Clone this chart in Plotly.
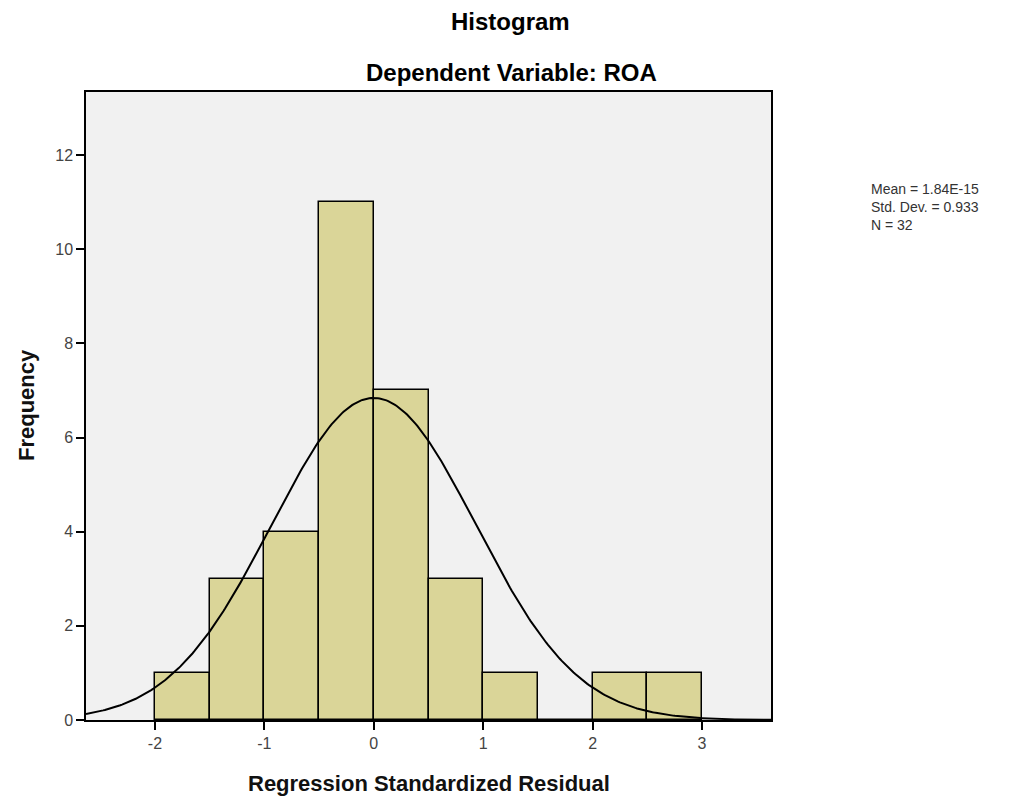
import numpy as np
import plotly.graph_objects as go

bin_edges_left = [-2.0, -1.5, -1.0, -0.5, 0.0, 0.5, 1.0, 1.5, 2.0, 2.5]
frequencies = [1, 3, 4, 11, 7, 3, 1, 0, 1, 1]
bin_width = 0.5
stat_mean = 1.84e-15
stat_sd = 0.933
stat_n = 32
x_ticks = [-2, -1, 0, 1, 2, 3]
x_tick_labels = ["-2", "-1", "0", "1", "2", "3"]
y_ticks = [0, 2, 4, 6, 8, 10, 12]
stats_lines = ["Mean = 1.84E-15", "Std. Dev. = 0.933", "N = 32"]

centers = [b + bin_width / 2 for b in bin_edges_left]

X_RANGE = [-2.63, 3.63]
Y_RANGE = [0, 13.34]

fig = go.Figure()
fig.add_trace(go.Bar(
    x=centers, y=frequencies, width=bin_width,
    marker=dict(color="rgb(218,213,152)", line=dict(color="black", width=1.5)),
    showlegend=False, hoverinfo="x+y",
))

# fitted normal curve from the displayed statistics
xc = np.linspace(X_RANGE[0], X_RANGE[1], 400)
yc = stat_n * bin_width / (stat_sd * np.sqrt(2 * np.pi)) * np.exp(-0.5 * ((xc - stat_mean) / stat_sd) ** 2)
fig.add_trace(go.Scatter(x=xc, y=yc, mode="lines", line=dict(color="black", width=2),
                         showlegend=False, hoverinfo="skip"))

# page offset of 8px (body margin)
OFF = 8
L, T = 86 - OFF, 92 - OFF
PW, PH = 771 - 86, 720 - 92
W, H = 1014, 798
R = W - L - PW
B = H - T - PH

def px(page_x):
    return (page_x - OFF - L) / PW
def py(page_y):
    return (H - B - (page_y - OFF)) / PH

font_family = "Liberation Sans, Arial, sans-serif"
annotations = [
    dict(text="<b>Histogram</b>", x=px(510), y=py(22), font=dict(size=24, color="black")),
    dict(text="<b>Dependent Variable: ROA</b>", x=px(512), y=py(72), font=dict(size=24, color="black")),
    dict(text="<b>Regression Standardized Residual</b>", x=px(429), y=py(783),
         font=dict(size=22, color="#111")),
    dict(text="<b>Frequency</b>", x=px(27), y=py(405), textangle=-90,
         font=dict(size=22, color="#111")),
    dict(text="<br>".join(stats_lines), x=px(869), y=py(207), xanchor="left", align="left",
         font=dict(size=14, color="#333")),
]
for a in annotations:
    a.setdefault("xref", "paper")
    a.setdefault("yref", "paper")
    a.setdefault("showarrow", False)
    a.setdefault("xanchor", "center")
    a.setdefault("yanchor", "middle")

fig.update_layout(
    width=W, height=H,
    margin=dict(l=L, r=R, t=T, b=B),
    paper_bgcolor="white", plot_bgcolor="rgb(241,241,241)",
    bargap=0,
    font=dict(family=font_family, color="#333", size=16),
    xaxis=dict(range=X_RANGE, tickvals=x_ticks, ticktext=x_tick_labels, ticks="outside", ticklen=8,
               tickcolor="black", tickwidth=1.5, showgrid=False, zeroline=False,
               showline=True, linecolor="black", linewidth=1.5, mirror=True,
               tickfont=dict(size=16, color="#444")),
    yaxis=dict(range=Y_RANGE, tickvals=y_ticks, ticks="outside", ticklen=8,
               tickcolor="black", tickwidth=1.5, showgrid=False, zeroline=False,
               showline=True, linecolor="black", linewidth=1.5, mirror=True,
               tickfont=dict(size=16, color="#444")),
    annotations=annotations,
)

fig.write_html("out.html")
